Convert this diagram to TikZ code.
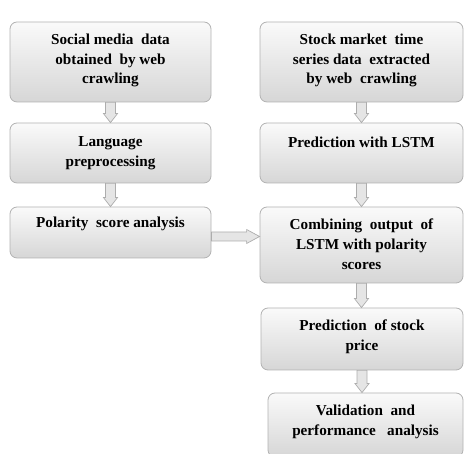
\documentclass[tikz,border=0pt]{standalone}
\usepackage{fontspec}
\setmainfont{Liberation Serif}
\usetikzlibrary{calc}
\tikzset{
  x=1pt, y=1pt,
  box/.style={draw=black!30, line width=0.8pt, rounded corners=7pt,
    top color=black!2, bottom color=black!16, inner sep=0pt},
  lbl/.style={anchor=north, align=center, font=\bfseries\fontsize{15.2}{19.8}\selectfont,
    text=black, inner sep=0pt},
  hollow/.style={draw=black!32, line width=0.7pt, fill=black!10}
}
% vertical hollow block arrow from #1.south to #2.north
\newcommand\downarrowblock[2]{%
  \path let \p1=(#1.south), \p2=(#2.north) in
    [hollow] (\x1-5,\y1) -- (\x1+5,\y1) -- (\x1+5,\y2+9) -- (\x1+7,\y2+9)
    -- (\x1,\y2) -- (\x1-7,\y2+9) -- (\x1-5,\y2+9) -- cycle;}
\begin{document}
\begin{tikzpicture}
\useasboundingbox (0,0) rectangle (466,454);
% left column
\node[box, minimum width=201, minimum height=80] (b1) at (110.5,392) {};
\node[box, minimum width=201, minimum height=60] (b2) at (110.5,301) {};
\node[box, minimum width=201, minimum height=51] (b3) at (110.5,221.5) {};
% right column
\node[box, minimum width=203, minimum height=80] (b4) at (361.5,392) {};
\node[box, minimum width=203, minimum height=60] (b5) at (361.5,301) {};
\node[box, minimum width=203, minimum height=76] (b6) at (361.5,209) {};
\node[box, minimum width=202, minimum height=62] (b7) at (362,115) {};
\node[box, minimum width=195, minimum height=64] (b8) at (365.5,29) {};
% labels
\node[lbl] (t1) at ([yshift=-12]b1.north) {Social media\ \ data\\obtained\ \ by web\\crawling};
\node[lbl] (t2) at ([yshift=-14]b2.north) {Language\\preprocessing};
\node[lbl] (t3) at ([yshift=-10]b3.north) {Polarity\ \ score analysis};
\node[lbl] (t4) at ([yshift=-12]b4.north) {Stock market\ \ time\\series data\ \ extracted\\by web\ \ crawling};
\node[lbl] (t5) at ([yshift=-14]b5.north) {Prediction with LSTM};
\node[lbl] (t6) at ([yshift=-12]b6.north) {Combining\ \ output\ \ of\\LSTM with polarity\\scores};
\node[lbl] (t7) at ([yshift=-12]b7.north) {Prediction\ \ of stock\\price};
\node[lbl] (t8) at ([yshift=-12]b8.north) {Validation\ \ and\\performance\ \ \ analysis};
% vertical connectors
\downarrowblock{b1}{b2}
\downarrowblock{b2}{b3}
\downarrowblock{b4}{b5}
\downarrowblock{b5}{b6}
\downarrowblock{b6}{b7}
\downarrowblock{b7}{b8}
% horizontal connector from polarity scores into the combining step
\path let \p1=([yshift=-4]b3.east), \p2=(b6.west) in
  [hollow] (\x1,\y1+4.5) -- (\x2-13,\y1+4.5) -- (\x2-13,\y1+7) -- (\x2,\y1)
  -- (\x2-13,\y1-7) -- (\x2-13,\y1-4.5) -- (\x1,\y1-4.5) -- cycle;
\end{tikzpicture}
\end{document}
